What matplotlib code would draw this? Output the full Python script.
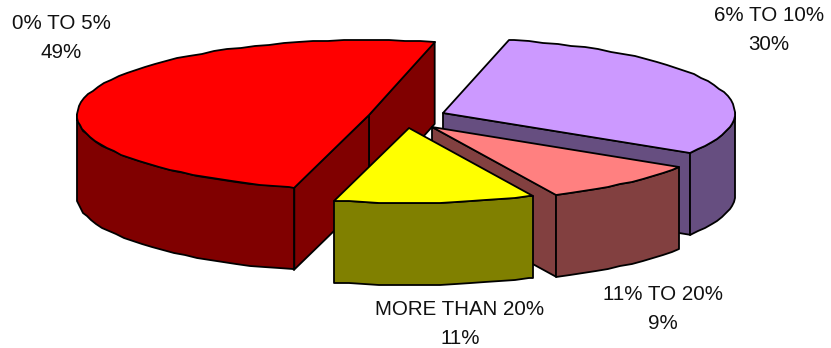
import numpy as np
import matplotlib
matplotlib.use('Agg')
import matplotlib.pyplot as plt
from matplotlib.patches import Polygon

# data
categories = ['0% TO 5%', 'MORE THAN 20%', '11% TO 20%', '6% TO 10%']
values = [49, 11, 9, 30]

# styling (same order as categories)
top_colors = ['#FF0000', '#FFFF00', '#FF8080', '#CC99FF']
side_colors = ['#800000', '#808000', '#824040', '#664E80']
apex_x = [369, 409, 432, 443]
apex_y = [115, 128, 127, 113]
label_pos = [(61, 38), (460, 324), (663, 309), (769, 30)]
draw_order = [0, 3, 2, 1]

rx, ry = 292, 75
depth = 82
start_angle = 77
grid = 1.0  # the rim of the original looks slightly wobbly


def rim(cx, cy, t1, t2):
    t = np.radians(np.arange(t1, t2, 3.0).tolist() + [t2])
    x = cx + rx * np.cos(t)
    y = cy - ry * np.sin(t)
    return np.round(x / grid) * grid, np.round(y / grid) * grid


def add_poly(ax, x, y, color):
    ax.add_patch(Polygon(np.column_stack([x, y]), closed=True, facecolor=color,
                         edgecolor='black', linewidth=1.3, joinstyle='round'))


def draw_slice(ax, cx, cy, t1, t2, top, side):
    # walls of the cut, only those that face the viewer
    if np.cos(np.radians(t1)) > 0:
        ex, ey = cx + rx * np.cos(np.radians(t1)), cy - ry * np.sin(np.radians(t1))
        add_poly(ax, [cx, ex, ex, cx], [cy, ey, ey + depth, cy + depth], side)
    if np.cos(np.radians(t2)) < 0:
        ex, ey = cx + rx * np.cos(np.radians(t2)), cy - ry * np.sin(np.radians(t2))
        add_poly(ax, [cx, ex, ex, cx], [cy, ey, ey + depth, cy + depth], side)

    # outer wall: the part of the arc in the front half
    for k in range(-1, 3):
        a = max(t1, 180 + 360 * k)
        b = min(t2, 360 + 360 * k)
        if a < b:
            x, y = rim(cx, cy, a, b)
            add_poly(ax, np.r_[x, x[::-1]], np.r_[y, y[::-1] + depth], side)

    x, y = rim(cx, cy, t1, t2)
    add_poly(ax, np.r_[cx, x], np.r_[cy, y], top)


fig = plt.figure(figsize=(8.31, 3.48), dpi=100)
ax = fig.add_axes([0, 0, 1, 1])
ax.set_xlim(0, 831)
ax.set_ylim(348, 0)
ax.axis('off')

# angles run counter clockwise from the start angle
sweeps = np.array(values) / sum(values) * 360
starts = start_angle + np.r_[0, np.cumsum(sweeps)[:-1]]

for i in draw_order:
    draw_slice(ax, apex_x[i], apex_y[i], starts[i], starts[i] + sweeps[i],
               top_colors[i], side_colors[i])

for i, name in enumerate(categories):
    ax.text(label_pos[i][0], label_pos[i][1], f'{name}\n{values[i]}%', ha='center', va='center',
            fontfamily='Liberation Sans', fontsize=14.8, color='#111111', linespacing=1.62)

fig.savefig('out.png', dpi=100)
